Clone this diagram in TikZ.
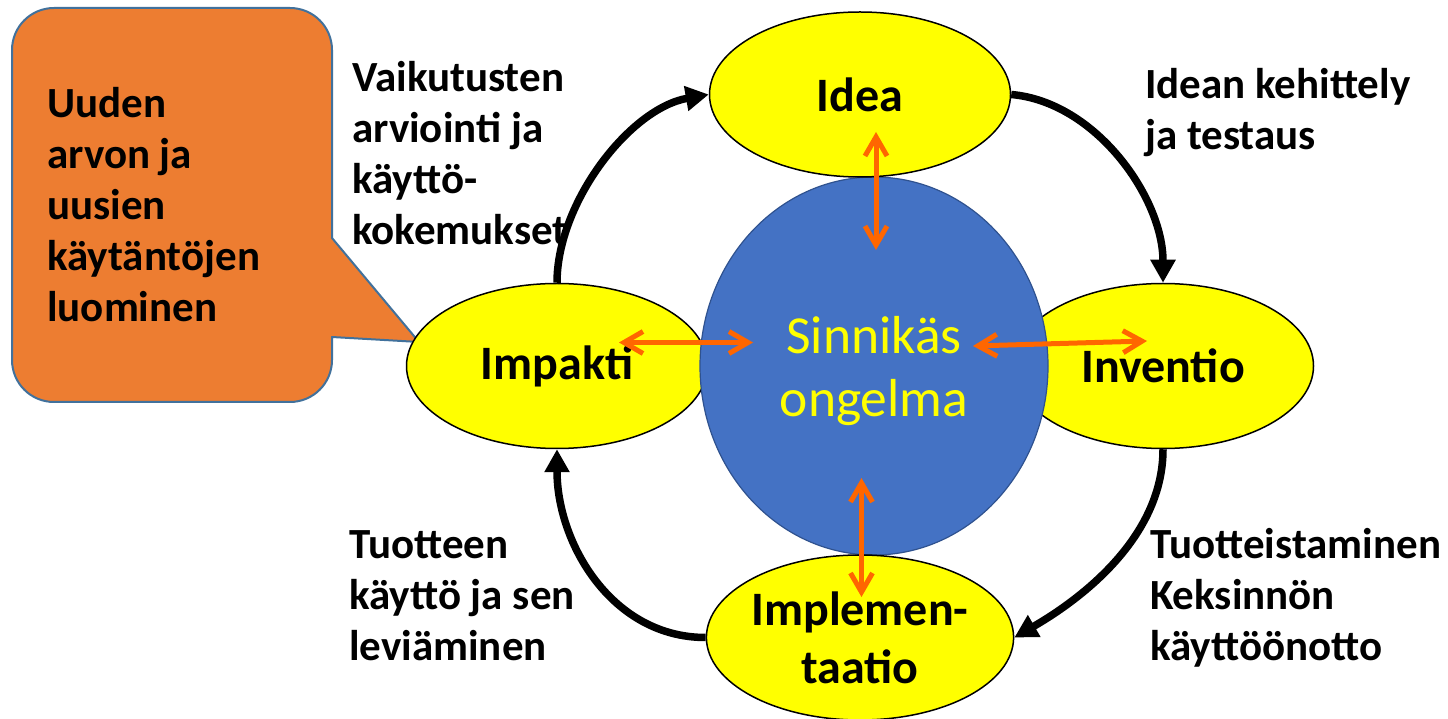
\documentclass[tikz,border=0pt]{standalone}
\usepackage{fontspec}
\setmainfont{Carlito}
\usetikzlibrary{arrows.meta,shapes.geometric}
\definecolor{stageyellow}{HTML}{FFFF00}
\definecolor{problemblue}{HTML}{4472C4}
\definecolor{problemedge}{HTML}{2F528F}
\definecolor{calloutorange}{HTML}{ED7D31}
\definecolor{calloutedge}{HTML}{41719C}
\definecolor{linkorange}{HTML}{FF6600}
\begin{document}
\begin{tikzpicture}[line cap=round,line join=round,x=1pt,y=1pt,
    stagenode/.style={ellipse,draw=black,line width=1.5pt,fill=stageyellow,minimum width=301pt,minimum height=165pt,inner sep=0pt,align=center,font=\fontsize{48}{58}\selectfont\bfseries},
    problemnode/.style={ellipse,draw=problemedge,line width=1.2pt,fill=problemblue,minimum width=348pt,minimum height=378pt,inner sep=0pt},
    problemtext/.style={inner sep=0pt,align=center,text=stageyellow,font=\fontsize{53.5}{63}\selectfont},
    phasetext/.style={anchor=base west,inner sep=0pt,align=left,font=\fontsize{43}{51}\selectfont\bfseries},
    cyclearrow/.style={line width=7.5pt,line cap=butt,-{Triangle[length=23pt,width=24pt]}},
    orangelink/.style={line width=5pt,draw=linkorange,{Straight Barb[length=19pt,width=22pt]}-{Straight Barb[length=19pt,width=22pt]}}]
    \useasboundingbox (0,0) rectangle (1448,718);
    % callout
    \draw [line width=2pt,draw=calloutedge,fill=calloutorange] (54,710) -- (290,710) arc[start angle=90,end angle=0,radius=42] -- (332,480) -- (419,376) -- (332,381) -- (332,358) arc[start angle=0,end angle=-90,radius=42] -- (54,316) arc[start angle=270,end angle=180,radius=42] -- (12,668) arc[start angle=180,end angle=90,radius=42] -- cycle;
    \node[phasetext] (luominen) at (47,396) {Uuden\\arvon ja\\uusien\\käytäntöjen\\luominen};
    % ellipses
    \node[stagenode] (impakti) at (557,352) {Impakti};
    \node[stagenode] (inventio) at (1163,352) {Inventio};
    \node[problemnode] (ongelma) at (874,352) {};
    \node[problemtext] (ongelmateksti) at ([yshift=-5pt]ongelma.center) {Sinnikäs\\ongelma};
    \node[stagenode] (idea) at (860,623.5) {Idea};
    \node[stagenode] (implementaatio) at (860,80.5) {Implemen-\\taatio};
    % texts
    \node[phasetext] (arviointi) at (352,473) {Vaikutusten\\arviointi ja\\käyttö-\\kokemukset};
    \node[phasetext] (kehittely) at (1145,568) {Idean kehittely\\ja testaus};
    \node[phasetext] (leviaminen) at (349,58) {Tuotteen\\käyttö ja sen\\leviäminen};
    \node[phasetext] (kayttoonotto) at (1150,58) {Tuotteistaminen\\Keksinnön\\käyttöönotto};
    % cycle
    \draw [cyclearrow] (impakti.north) to[out=90,in=190,looseness=0.85] (idea.west);
    \draw [cyclearrow] (idea.east) to[out=-5,in=90,looseness=0.9] (inventio.north);
    \draw [cyclearrow] (inventio.south) to[out=-90,in=30,looseness=0.9] (implementaatio.east);
    \draw [cyclearrow] (implementaatio.west) to[out=180,in=-90] (impakti.south);
    % links
    \coordinate (ideatop) at (876,586);
    \coordinate (ideabot) at (876,468);
    \coordinate (impaktiL) at (619,375.5);
    \coordinate (impaktiR) at (753,375.5);
    \coordinate (inventioL) at (973,372);
    \coordinate (inventioR) at (1147,377);
    \coordinate (impltop) at (861.5,240);
    \coordinate (implbot) at (861.5,121);
    \draw [orangelink] (ideatop) -- (ideabot);
    \draw [orangelink] (impaktiL) -- (impaktiR);
    \draw [orangelink] (inventioL) -- (inventioR);
    \draw [orangelink] (impltop) -- (implbot);
\end{tikzpicture}
\end{document}
